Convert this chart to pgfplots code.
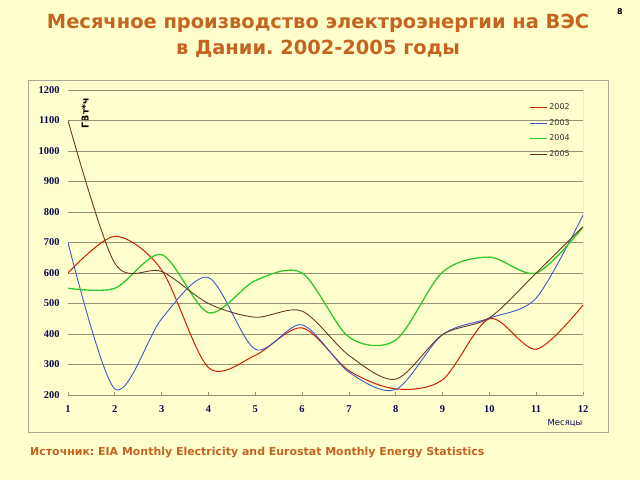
\documentclass[border=0pt]{standalone}
\usepackage{pgfplots}
\pgfplotsset{compat=1.18}
\usepackage{fontspec}
\setmainfont{DejaVu Sans}
\newfontfamily\tickfont{Liberation Serif}
\frenchspacing
\definecolor{bg}{RGB}{255,255,206}
\definecolor{gridc}{RGB}{150,146,118}
\definecolor{framec}{RGB}{170,168,150}
\definecolor{titlec}{RGB}{196,100,30}
\definecolor{navy}{RGB}{10,10,80}
\definecolor{c2002}{RGB}{210,30,0}
\definecolor{c2003}{RGB}{60,90,200}
\definecolor{c2004}{RGB}{50,200,40}
\definecolor{c2005}{RGB}{105,55,40}
\begin{document}
\begin{tikzpicture}
\fill[bg] (0bp,0bp) rectangle (640bp,480bp);
\useasboundingbox (0bp,0bp) rectangle (640bp,480bp);
\draw[framec, line width=0.8bp] (28bp,48bp) rectangle (608bp,400bp);
\node[anchor=base, text=titlec, font=\fontsize{19.5}{22}\selectfont\bfseries] at (318bp,451bp) {Месячное производство электроэнергии на ВЭС};
\node[anchor=base, text=titlec, font=\fontsize{19.5}{22}\selectfont\bfseries] at (318bp,425bp) {в Дании. 2002-2005 годы};
\node[font=\fontsize{8}{9}\selectfont\bfseries] at (620bp,468bp) {8};
\node[anchor=base west, inner sep=0, text=titlec, font=\fontsize{11}{12}\selectfont\bfseries] at (30bp,25bp) {Источник: EIA Monthly Electricity and Eurostat Monthly Energy Statistics};
\node[rotate=90, font=\fontsize{9.5}{10}\selectfont\bfseries] at (85bp,367bp) {ГВт*ч};
\node[text=navy, font=\fontsize{8.5}{10}\selectfont] at (565bp,57bp) {Месяцы};
\begin{axis}[
  at={(68bp,85bp)}, anchor=south west,
  scale only axis, width=515bp, height=305bp,
  xmin=1, xmax=12, ymin=200, ymax=1200,
  xtick={1,...,12}, ytick={200,300,...,1200},
  /pgf/number format/assume math mode=true,
  /pgf/number format/1000 sep={},
  ymajorgrids, grid style={gridc, line width=0.8bp},
  axis line style={draw=none},
  tick align=inside, xtick pos=bottom, ytick pos=left,
  major tick length=3bp,
  tick style={gridc, line width=0.7bp},
  ticklabel style={text=navy, font=\tickfont\fontsize{10.5}{12}\selectfont\bfseries},
  yticklabel style={xshift=-5bp},
  xticklabel style={yshift=-7bp},
  legend style={at={(0.893,0.965)}, anchor=north west, draw=none, fill=none,
    font=\fontsize{8}{9}\selectfont, text=black!80, row sep=4.2bp, inner sep=1bp},
  legend cell align=left,
  legend image code/.code={\draw[#1] (0bp,0bp) -- (17bp,0bp);},
]
\draw[gridc, line width=0.8bp] (axis cs:1,200) -- (axis cs:12,200);
\draw[gridc, line width=0.8bp] (axis cs:12,200) -- (axis cs:12,1200);
\addplot[c2002, line width=1bp, smooth] coordinates {
 (1,600) (2,720) (3,610) (4,290) (5,330) (6,420) (7,280) (8,220) (9,250) (10,450) (11,350) (12,495)};
\addlegendentry{2002}
\addplot[c2003, line width=0.9bp, smooth] coordinates {
 (1,700) (2,220) (3,450) (4,585) (5,350) (6,430) (7,275) (8,218) (9,398) (10,452) (11,518) (12,790)};
\addlegendentry{2003}
\addplot[c2004, line width=1.3bp, smooth] coordinates {
 (1,550) (2,550) (3,660) (4,470) (5,575) (6,600) (7,390) (8,380) (9,603) (10,652) (11,600) (12,750)};
\addlegendentry{2004}
\addplot[c2005, line width=0.9bp, smooth] coordinates {
 (1,1100) (2,632) (3,605) (4,500) (5,455) (6,475) (7,330) (8,252) (9,398) (10,453) (11,600) (12,752)};
\addlegendentry{2005}
\end{axis}
\end{tikzpicture}
\end{document}
